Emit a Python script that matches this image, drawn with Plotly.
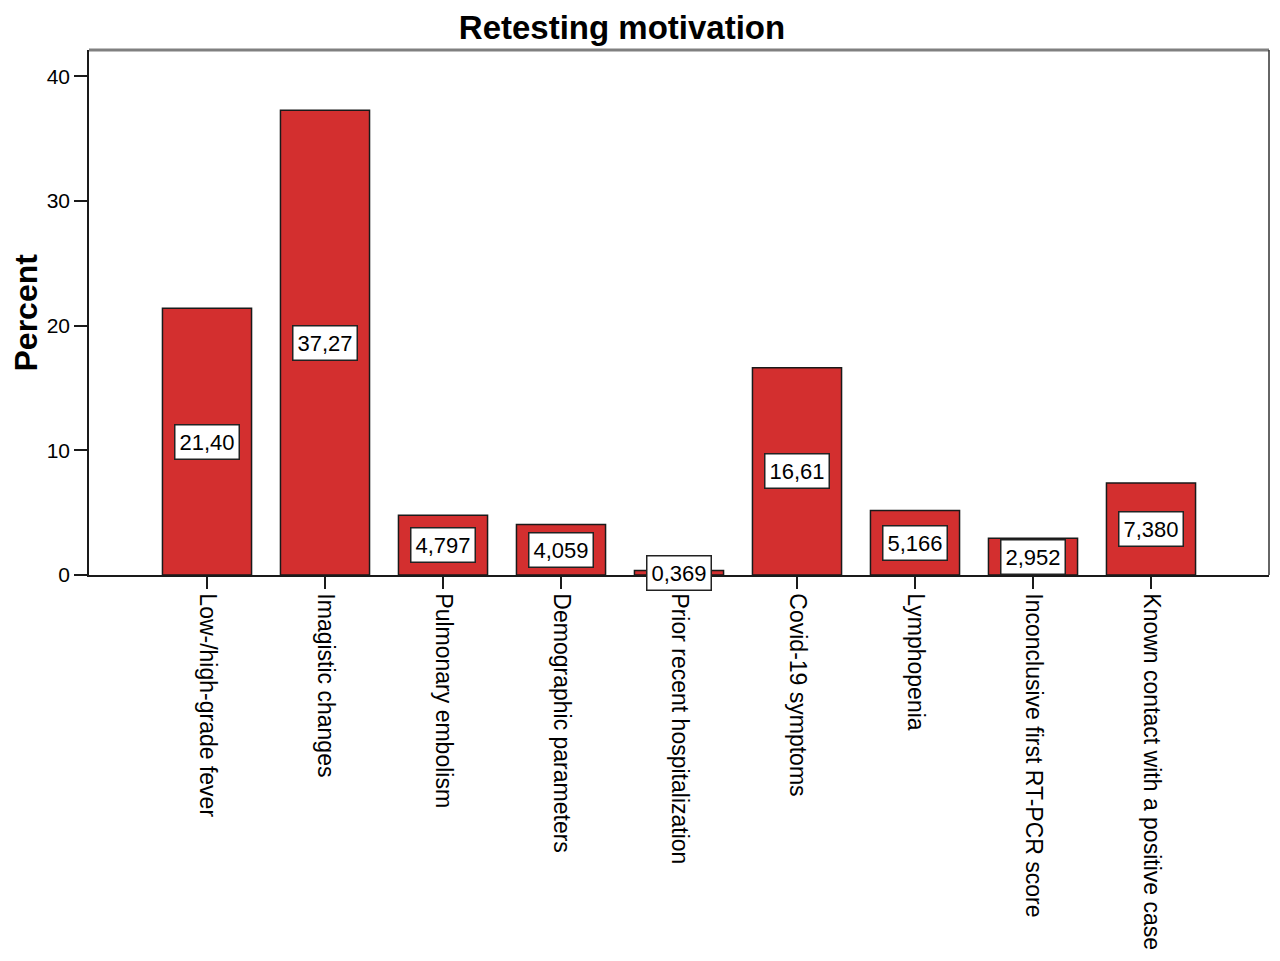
import plotly.graph_objects as go

# Retesting motivation - percent of cases
categories = ['Low-/high-grade fever', 'Imagistic changes', 'Pulmonary embolism',
              'Demographic parameters', 'Prior recent hospitalization', 'Covid-19 symptoms',
              'Lymphopenia', 'Inconclusive first RT-PCR score', 'Known contact with a positive case']
percents = [21.40, 37.27, 4.797, 4.059, 0.369, 16.61, 5.166, 2.952, 7.380]
y_ticks = [0, 10, 20, 30, 40]


def fmt(v):
    # 4 significant digits, comma decimal (SPSS style)
    s = f"{v:.2f}" if v >= 10 else f"{v:.3f}"
    return s.replace('.', ',')


fig = go.Figure()
fig.add_trace(go.Bar(
    x=list(range(len(categories))), y=percents,
    marker=dict(color='#d32f2f', line=dict(color='#1a1a1a', width=1.5)),
    width=0.755, hoverinfo='skip'))

# value labels in white boxes at the middle of each bar
for i, v in enumerate(percents):
    fig.add_annotation(x=i, y=v / 2, text=fmt(v), showarrow=False,
                       font=dict(family='Liberation Sans, Arial', size=22, color='black'),
                       bgcolor='white', bordercolor='#222222', borderwidth=1.5, borderpad=4)

# y axis title placed by hand, as far left as the page allows
fig.add_annotation(xref='paper', yref='paper', x=0, y=0.5, xshift=-64,
                   xanchor='center', yanchor='middle',
                   text='<b>Percent</b>', textangle=-90, showarrow=False,
                   font=dict(size=32, color='black'))

# frame: grey top line, dark right line
fig.add_shape(type='line', xref='paper', yref='paper', x0=0, x1=1, y0=1, y1=1,
              line=dict(color='#808080', width=3))
fig.add_shape(type='line', xref='paper', yref='paper', x0=1, x1=1, y0=0, y1=1,
              line=dict(color='#333333', width=1.5))

# page body has an 8px margin, so everything is shifted back by 8px
fig.update_layout(
    width=1280, height=961,
    margin=dict(l=81, r=19, t=42, b=394),
    paper_bgcolor='white', plot_bgcolor='white',
    showlegend=False,
    font=dict(family='Liberation Sans, Arial', color='black'),
    title=dict(text='<b>Retesting motivation</b>', x=614 / 1280, xanchor='center',
               y=1 - 19 / 961, yanchor='middle',
               font=dict(size=33, color='black')),
)
fig.update_xaxes(
    tickmode='array', tickvals=list(range(len(categories))), ticktext=categories,
    range=[-1, 9], tickangle=90, ticks='outside', ticklen=12, tickwidth=1.5,
    tickcolor='#1a1a1a', showline=True, linecolor='#1a1a1a', linewidth=1.5,
    showgrid=False, zeroline=False, automargin=False,
    tickfont=dict(size=23, color='black'))
fig.update_yaxes(
    range=[0, 42.1], tickvals=y_ticks, ticks='outside', ticklen=13, tickwidth=1.5,
    tickcolor='#1a1a1a', showline=True, linecolor='#1a1a1a', linewidth=1.5,
    showgrid=False, zeroline=False, automargin=False,
    tickfont=dict(size=21, color='black'))

fig.write_html("out.html")
